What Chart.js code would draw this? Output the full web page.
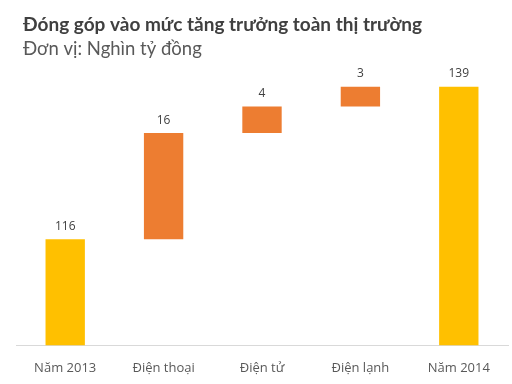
<!DOCTYPE html>
<html><head><meta charset="utf-8">
<script src="https://cdn.jsdelivr.net/npm/chart.js@4.4.1/dist/chart.umd.min.js"></script>
<style>html,body{margin:0;padding:0;background:#fff}#wrap{width:512px;height:384px;position:relative}</style>
</head><body><div id="wrap"><canvas id="c" width="512" height="384"></canvas></div>
<script>
const categories = ["Năm 2013", "Điện thoại", "Điện tử", "Điện lạnh", "Năm 2014"];
const values = [116, 16, 4, 3, 139];
const isTotal = [true, false, false, false, true];
const axisMin = 100;
const axisMax = 140;
const titleText = "Đóng góp vào mức tăng trưởng toàn thị trường";
const subtitleText = "Đơn vị: Nghìn tỷ đồng";

// build floating ranges
let running = 0;
const ranges = values.map((v, i) => {
  if (isTotal[i]) { running = v; return [axisMin, v]; }
  const r = [running, running + v]; running += v; return r;
});
const colors = isTotal.map(t => t ? "#FFC000" : "#ED7D31");

const textPlugin = {
  id: "texts",
  afterDraw(chart) {
    const ctx = chart.ctx;
    ctx.save();
    ctx.textBaseline = "alphabetic";
    ctx.textAlign = "left";
    ctx.fillStyle = "#404040";
    ctx.font = "bold 19px Lato";
    ctx.fillText(titleText, 23, 31);
    ctx.fillStyle = "#595959";
    ctx.font = "18.5px Lato";
    ctx.fillText(subtitleText, 23, 55);
    // data labels
    const meta = chart.getDatasetMeta(0);
    ctx.font = "12px 'Open Sans'";
    ctx.fillStyle = "#404040";
    ctx.textAlign = "center";
    ctx.textBaseline = "middle";
    meta.data.forEach((bar, i) => {
      const top = Math.min(bar.y, bar.base);
      ctx.fillText(String(values[i]), bar.x, top - 13);
    });
    ctx.restore();
  }
};

new Chart(document.getElementById("c"), {
  type: "bar",
  data: {
    labels: categories,
    datasets: [{ data: ranges, backgroundColor: colors, borderWidth: 0,
      barPercentage: 0.4, categoryPercentage: 1.0 }]
  },
  options: {
    responsive: false,
    animation: false,
    layout: { padding: { top: 80, left: 16, right: 4, bottom: 1 } },
    plugins: { legend: { display: false }, tooltip: { enabled: false } },
    scales: {
      x: {
        grid: { display: false },
        border: { display: true, color: "#d9d9d9", width: 1 },
        ticks: { color: "#595959", font: { size: 13, family: "'Open Sans'" }, padding: 7 }
      },
      y: { display: false, min: axisMin, max: axisMax }
    }
  },
  plugins: [textPlugin]
});
</script></body></html>
